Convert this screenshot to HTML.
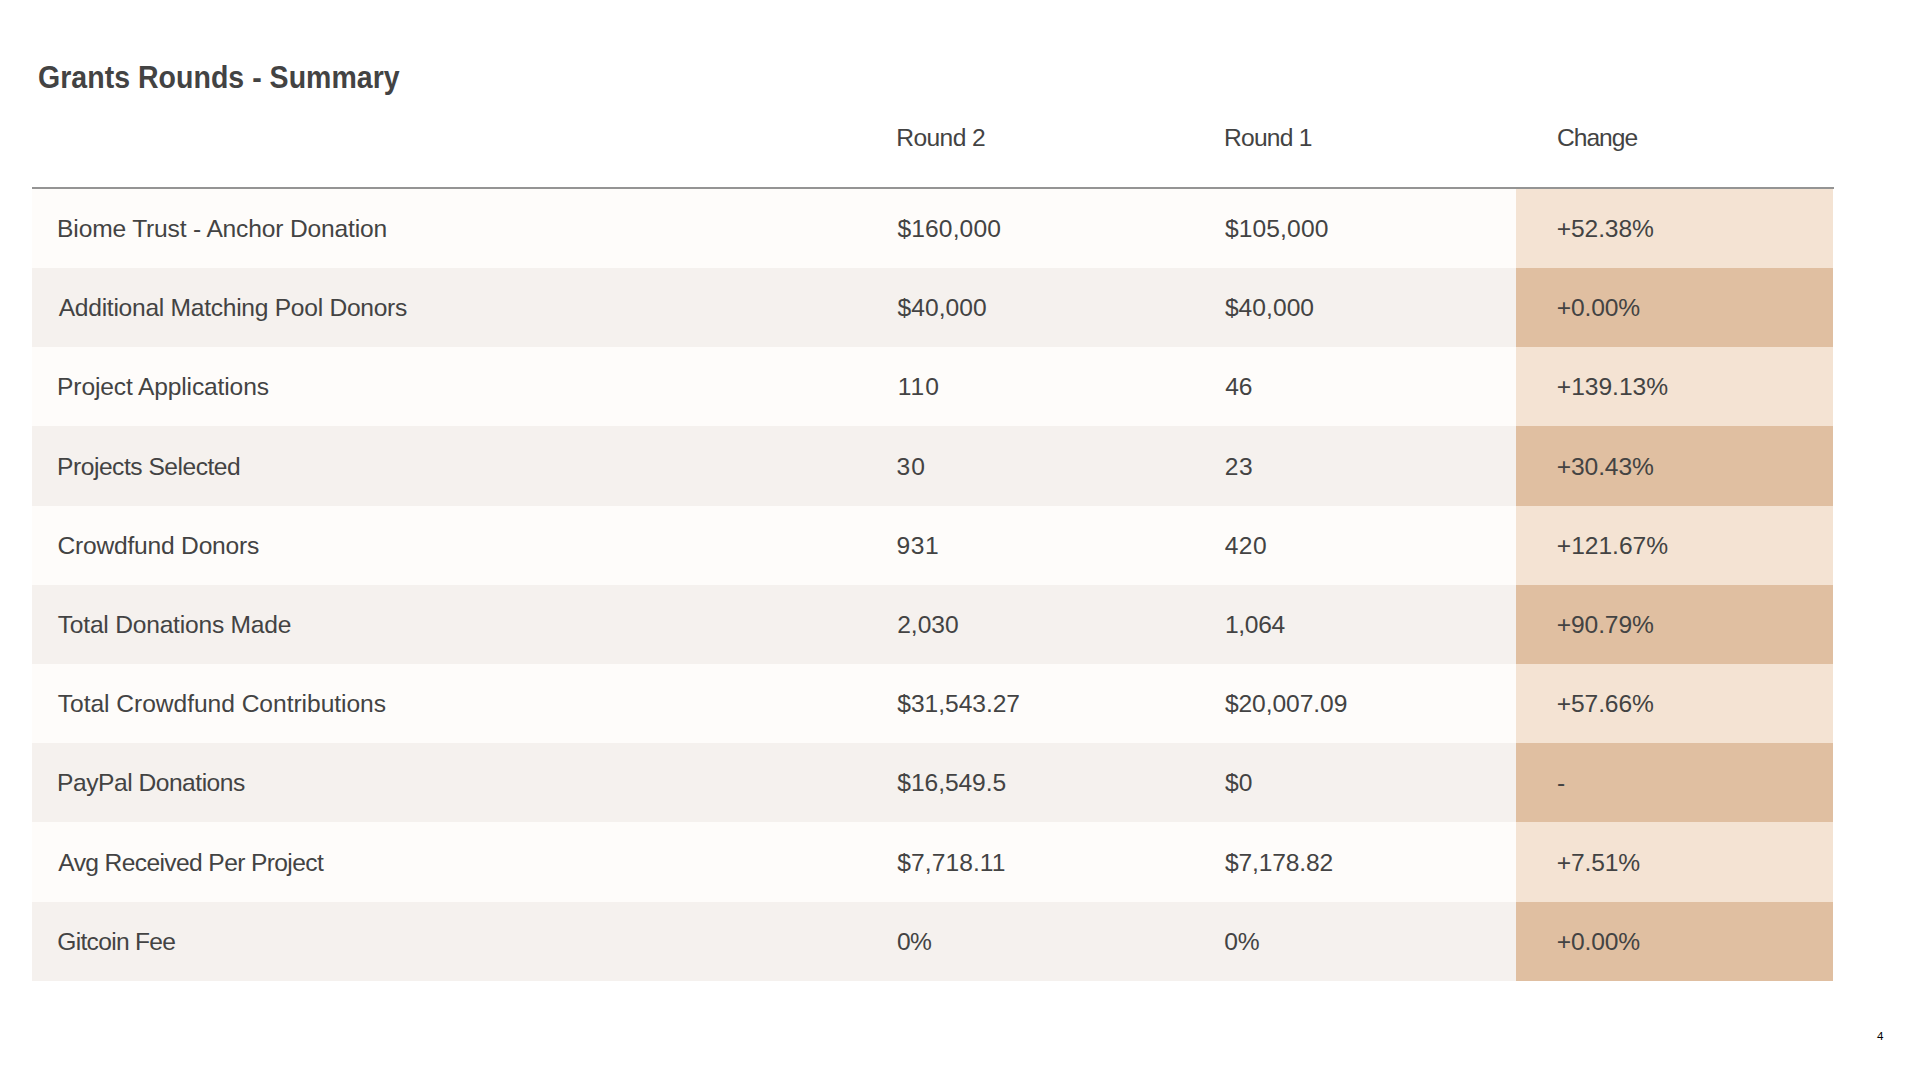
<!DOCTYPE html>
<html lang="en"><head><meta charset="utf-8"><title>Grants Rounds - Summary</title>
<style>
html,body{margin:0;padding:0;background:#fff;}
body{width:1920px;height:1080px;position:relative;overflow:hidden;font-family:"Liberation Sans",sans-serif;color:#434343;}
.row{position:absolute;left:32px;width:1801.3px;height:79.2px;}
.row.a{background:#fefcfa;}
.row.b{background:#f5f1ee;}
.chg{position:absolute;left:1516.3px;width:317px;height:79.2px;}
.chg.a{background:#f4e3d3;}
.chg.b{background:#e0bfa1;}
.rule{position:absolute;left:32px;top:187px;width:1801.5px;height:1.9px;background:#949494;}
.t,.h,.p{position:absolute;white-space:nowrap;line-height:1;margin:0;padding:0;transform-origin:0 0;}
.t{font-size:24.6px;font-weight:400;}
.h{font-size:30.8px;font-weight:700;color:#434343;}
.p{font-size:11.6px;color:#000;}
</style></head><body>
<div class="row a" style="top:188.8px"></div><div class="chg a" style="top:188.8px"></div>
<div class="row b" style="top:268.0px"></div><div class="chg b" style="top:268.0px"></div>
<div class="row a" style="top:347.2px"></div><div class="chg a" style="top:347.2px"></div>
<div class="row b" style="top:426.4px"></div><div class="chg b" style="top:426.4px"></div>
<div class="row a" style="top:505.6px"></div><div class="chg a" style="top:505.6px"></div>
<div class="row b" style="top:584.8px"></div><div class="chg b" style="top:584.8px"></div>
<div class="row a" style="top:664.0px"></div><div class="chg a" style="top:664.0px"></div>
<div class="row b" style="top:743.2px"></div><div class="chg b" style="top:743.2px"></div>
<div class="row a" style="top:822.4px"></div><div class="chg a" style="top:822.4px"></div>
<div class="row b" style="top:901.6px"></div><div class="chg b" style="top:901.6px"></div>
<div class="rule"></div>
<h1 id="title" class="h" style="left:38.21px;top:62.63px;letter-spacing:0.037px;transform:scaleX(0.925)">Grants Rounds - Summary</h1>
<div id="h2" class="t" style="left:896.29px;top:126.03px;letter-spacing:-0.598px">Round 2</div>
<div id="h3" class="t" style="left:1223.95px;top:126.03px;letter-spacing:-0.748px">Round 1</div>
<div id="h4" class="t" style="left:1556.91px;top:126.03px;letter-spacing:-0.972px">Change</div>
<div id="c1r1" class="t" style="left:57.12px;top:217.05px;letter-spacing:-0.174px">Biome Trust - Anchor Donation</div>
<div id="c1r2" class="t" style="left:58.72px;top:296.25px;letter-spacing:-0.274px">Additional Matching Pool Donors</div>
<div id="c1r3" class="t" style="left:57.12px;top:375.45px;letter-spacing:-0.146px">Project Applications</div>
<div id="c1r4" class="t" style="left:57.12px;top:454.65px;letter-spacing:-0.488px">Projects Selected</div>
<div id="c1r5" class="t" style="left:57.53px;top:533.85px;letter-spacing:-0.219px">Crowdfund Donors</div>
<div id="c1r6" class="t" style="left:57.77px;top:613.05px;letter-spacing:-0.222px">Total Donations Made</div>
<div id="c1r7" class="t" style="left:57.77px;top:692.25px;letter-spacing:-0.042px">Total Crowdfund Contributions</div>
<div id="c1r8" class="t" style="left:57.12px;top:771.45px;letter-spacing:-0.488px">PayPal Donations</div>
<div id="c1r9" class="t" style="left:58.37px;top:850.65px;letter-spacing:-0.626px">Avg Received Per Project</div>
<div id="c1r10" class="t" style="left:57.32px;top:929.85px;letter-spacing:-0.712px">Gitcoin Fee</div>
<div id="c2r1" class="t" style="left:897.43px;top:217.05px;letter-spacing:0.124px">$160,000</div>
<div id="c2r2" class="t" style="left:897.43px;top:296.25px;letter-spacing:0.063px">$40,000</div>
<div id="c2r3" class="t" style="left:897.65px;top:375.45px;letter-spacing:1.000px">110</div>
<div id="c2r4" class="t" style="left:896.58px;top:454.65px;letter-spacing:1.070px">30</div>
<div id="c2r5" class="t" style="left:896.54px;top:533.85px;letter-spacing:0.560px">931</div>
<div id="c2r6" class="t" style="left:897.13px;top:613.05px;letter-spacing:0.005px">2,030</div>
<div id="c2r7" class="t" style="left:897.35px;top:692.25px;letter-spacing:-0.050px">$31,543.27</div>
<div id="c2r8" class="t" style="left:897.35px;top:771.45px;letter-spacing:-0.080px">$16,549.5</div>
<div id="c2r9" class="t" style="left:897.35px;top:850.65px;letter-spacing:0.062px">$7,718.11</div>
<div id="c2r10" class="t" style="left:896.92px;top:929.85px;letter-spacing:-0.580px">0%</div>
<div id="c3r1" class="t" style="left:1224.89px;top:217.05px;letter-spacing:0.131px">$105,000</div>
<div id="c3r2" class="t" style="left:1224.89px;top:296.25px;letter-spacing:0.043px">$40,000</div>
<div id="c3r3" class="t" style="left:1225.25px;top:375.45px;letter-spacing:-0.100px">46</div>
<div id="c3r4" class="t" style="left:1224.70px;top:454.65px;letter-spacing:0.530px">23</div>
<div id="c3r5" class="t" style="left:1224.75px;top:533.85px;letter-spacing:0.405px">420</div>
<div id="c3r6" class="t" style="left:1225.02px;top:613.05px;letter-spacing:-0.333px">1,064</div>
<div id="c3r7" class="t" style="left:1224.89px;top:692.25px;letter-spacing:-0.067px">$20,007.09</div>
<div id="c3r8" class="t" style="left:1224.89px;top:771.45px;letter-spacing:0.080px">$0</div>
<div id="c3r9" class="t" style="left:1224.89px;top:850.65px;letter-spacing:-0.130px">$7,178.82</div>
<div id="c3r10" class="t" style="left:1224.29px;top:929.85px;letter-spacing:-0.210px">0%</div>
<div id="c4r1" class="t" style="left:1556.81px;top:217.05px;letter-spacing:-0.127px">+52.38%</div>
<div id="c4r2" class="t" style="left:1556.81px;top:296.25px;letter-spacing:-0.176px">+0.00%</div>
<div id="c4r3" class="t" style="left:1556.81px;top:375.45px;letter-spacing:-0.024px">+139.13%</div>
<div id="c4r4" class="t" style="left:1556.81px;top:454.65px;letter-spacing:-0.127px">+30.43%</div>
<div id="c4r5" class="t" style="left:1556.81px;top:533.85px;letter-spacing:-0.024px">+121.67%</div>
<div id="c4r6" class="t" style="left:1556.81px;top:613.05px;letter-spacing:-0.127px">+90.79%</div>
<div id="c4r7" class="t" style="left:1556.81px;top:692.25px;letter-spacing:-0.127px">+57.66%</div>
<div id="c4r8" class="t" style="left:1557.01px;top:771.45px;letter-spacing:0.000px">-</div>
<div id="c4r9" class="t" style="left:1556.81px;top:850.65px;letter-spacing:-0.176px">+7.51%</div>
<div id="c4r10" class="t" style="left:1556.81px;top:929.85px;letter-spacing:-0.176px">+0.00%</div>
<div id="pg" class="p" style="left:1876.96px;top:1030.28px;letter-spacing:0.000px">4</div>
</body></html>
